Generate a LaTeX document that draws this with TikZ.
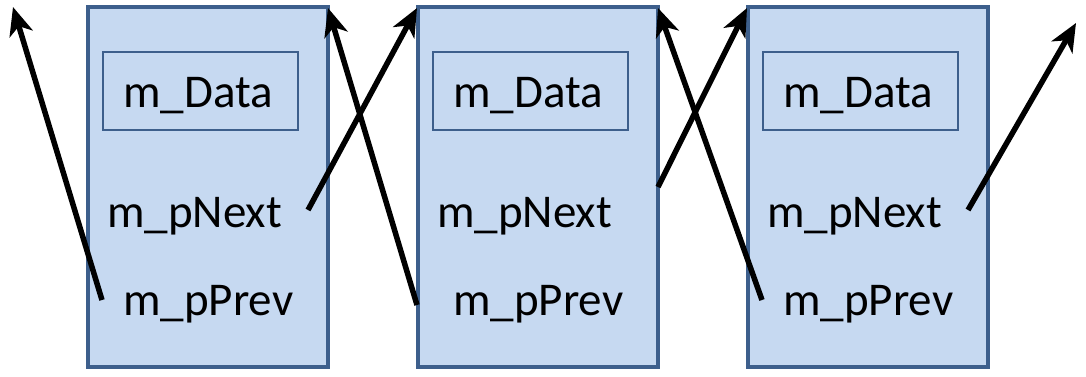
\documentclass[tikz,border=0pt]{standalone}
\usepackage{fontspec}
\setmainfont{Carlito}
\usetikzlibrary{arrows.meta}
\definecolor{boxfill}{HTML}{C6D9F1}
\definecolor{boxline}{HTML}{3D5F8C}
\tikzset{
  nodebox/.style={draw=boxline, fill=boxfill, line width=4.5pt, minimum width=240pt, minimum height=360pt, inner sep=0pt},
  databox/.style={draw=boxline, line width=1.3pt, minimum width=195pt, minimum height=78pt, inner sep=0pt},
  lbl/.style={font=\fontsize{47}{56}\selectfont, inner sep=0pt, anchor=base west},
  ptr/.style={line width=5.5pt, -{Stealth[length=28pt, width=24pt, inset=8pt]}}
}
\begin{document}
\begin{tikzpicture}[x=1pt,y=-1pt]
\useasboundingbox (0,0) rectangle (1086,376);
\foreach \i/\cx in {1/208, 2/538, 3/868} {
  \node[nodebox] (box\i) at (\cx,187) {};
  \node[databox] (data\i) at (\cx-7.5,91) {};
  \node[lbl] (dtext\i) at (\cx-85,107) {m\_Data};
  \node[lbl] (next\i) at (\cx-101,227) {m\_pNext};
  \node[lbl] (prev\i) at (\cx-85,315) {m\_pPrev};
}
\coordinate (p1s) at (102,300);
\coordinate (p1e) at (13,7);
\coordinate (n1s) at (308,210);
\coordinate (n1e) at (417,8);
\coordinate (p2s) at (417,305);
\coordinate (p2e) at (328,8);
\coordinate (n2s) at (658,187);
\coordinate (n2e) at (747,8);
\coordinate (p3s) at (762,300);
\coordinate (p3e) at (658,8);
\coordinate (n3s) at (968,210);
\coordinate (n3e) at (1076,23);
\foreach \a/\b in {p1s/p1e, n1s/n1e, p2s/p2e, n2s/n2e, p3s/p3e, n3s/n3e}
  \draw[ptr] (\a) -- (\b);
\end{tikzpicture}
\end{document}
